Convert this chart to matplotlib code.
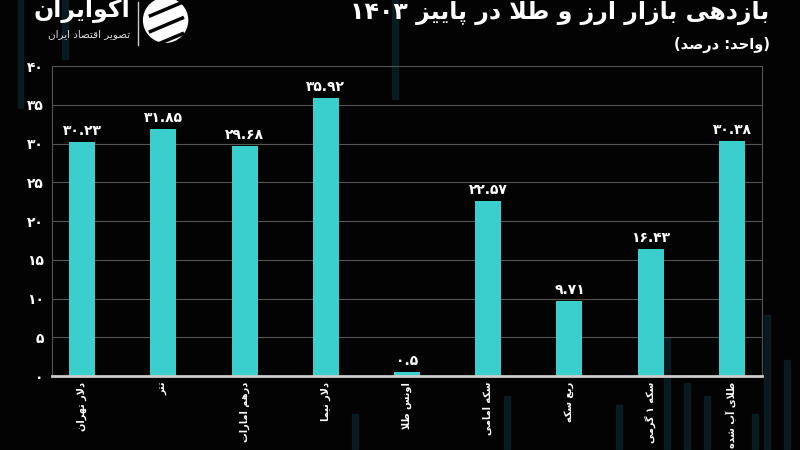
import matplotlib
matplotlib.use("Agg")
import matplotlib.pyplot as plt
from matplotlib.patches import Rectangle, Ellipse

# data
categories = ["دلار تهران", "تتر", "درهم امارات", "دلار نیما", "اونس طلا",
              "سکه امامی", "ربع سکه", "سکه ۱ گرمی", "طلای آب شده"]
values = [30.23, 31.85, 29.68, 35.92, 0.5, 22.57, 9.71, 16.43, 30.38]
yticks = [0, 5, 10, 15, 20, 25, 30, 35, 40]
title = "بازدهی بازار ارز و طلا در پاییز ۱۴۰۳"
subtitle = "(واحد: درصد)"
brand = "اکوایران"
brand_sub = "تصویر اقتصاد ایران"

# minimal persian shaping: (isolated, final, initial, medial)
FORMS = {
    'ا': ('\uFE8D', '\uFE8E', None, None),
    'آ': ('\uFE81', '\uFE82', None, None),
    'ب': ('\uFE8F', '\uFE90', '\uFE91', '\uFE92'),
    'پ': ('\uFB56', '\uFB57', '\uFB58', '\uFB59'),
    'ت': ('\uFE95', '\uFE96', '\uFE97', '\uFE98'),
    'ث': ('\uFE99', '\uFE9A', '\uFE9B', '\uFE9C'),
    'ج': ('\uFE9D', '\uFE9E', '\uFE9F', '\uFEA0'),
    'چ': ('\uFB7A', '\uFB7B', '\uFB7C', '\uFB7D'),
    'ح': ('\uFEA1', '\uFEA2', '\uFEA3', '\uFEA4'),
    'خ': ('\uFEA5', '\uFEA6', '\uFEA7', '\uFEA8'),
    'د': ('\uFEA9', '\uFEAA', None, None),
    'ذ': ('\uFEAB', '\uFEAC', None, None),
    'ر': ('\uFEAD', '\uFEAE', None, None),
    'ز': ('\uFEAF', '\uFEB0', None, None),
    'ژ': ('\uFB8A', '\uFB8B', None, None),
    'س': ('\uFEB1', '\uFEB2', '\uFEB3', '\uFEB4'),
    'ش': ('\uFEB5', '\uFEB6', '\uFEB7', '\uFEB8'),
    'ص': ('\uFEB9', '\uFEBA', '\uFEBB', '\uFEBC'),
    'ض': ('\uFEBD', '\uFEBE', '\uFEBF', '\uFEC0'),
    'ط': ('\uFEC1', '\uFEC2', '\uFEC3', '\uFEC4'),
    'ظ': ('\uFEC5', '\uFEC6', '\uFEC7', '\uFEC8'),
    'ع': ('\uFEC9', '\uFECA', '\uFECB', '\uFECC'),
    'غ': ('\uFECD', '\uFECE', '\uFECF', '\uFED0'),
    'ف': ('\uFED1', '\uFED2', '\uFED3', '\uFED4'),
    'ق': ('\uFED5', '\uFED6', '\uFED7', '\uFED8'),
    'ک': ('\uFB8E', '\uFB8F', '\uFB90', '\uFB91'),
    'گ': ('\uFB92', '\uFB93', '\uFB94', '\uFB95'),
    'ل': ('\uFEDD', '\uFEDE', '\uFEDF', '\uFEE0'),
    'م': ('\uFEE1', '\uFEE2', '\uFEE3', '\uFEE4'),
    'ن': ('\uFEE5', '\uFEE6', '\uFEE7', '\uFEE8'),
    'ه': ('\uFEE9', '\uFEEA', '\uFEEB', '\uFEEC'),
    'و': ('\uFEED', '\uFEEE', None, None),
    'ی': ('\uFBFC', '\uFBFD', '\uFBFE', '\uFBFF'),
}
LAM_ALEF = {'ا': ('\uFEFB', '\uFEFC'), 'آ': ('\uFEF5', '\uFEF6')}
DIGITS = "۰۱۲۳۴۵۶۷۸۹0123456789"
MIRROR = {'(': ')', ')': '('}


def shape(text):
    out = []
    n = len(text)
    i = 0
    while i < n:
        c = text[i]
        prev = text[i - 1] if i > 0 else None
        joins_prev = prev in FORMS and FORMS[prev][2] is not None
        if c == 'ل' and i + 1 < n and text[i + 1] in LAM_ALEF:
            iso, fin = LAM_ALEF[text[i + 1]]
            out.append(fin if joins_prev else iso)
            i += 2
            continue
        if c not in FORMS:
            out.append(c)
            i += 1
            continue
        nxt = text[i + 1] if i + 1 < n else None
        iso, fin, ini, med = FORMS[c]
        joins_next = nxt in FORMS and ini is not None
        if joins_prev and joins_next:
            out.append(med)
        elif joins_prev:
            out.append(fin)
        elif joins_next:
            out.append(ini)
        else:
            out.append(iso)
        i += 1
    return ''.join(out)


def rtl(text):
    s = shape(text)
    runs = []
    for ch in s:
        is_d = ch in DIGITS
        if runs and runs[-1][0] == is_d:
            runs[-1][1].append(ch)
        else:
            runs.append([is_d, [ch]])
    res = []
    for is_d, chars in reversed(runs):
        if is_d:
            res.append(''.join(chars))
        else:
            res.append(''.join(MIRROR.get(c, c) for c in reversed(chars)))
    return ''.join(res)


def fa_num(x):
    s = str(x)
    return s.translate(str.maketrans("0123456789", "۰۱۲۳۴۵۶۷۸۹"))


plt.rcParams['font.family'] = ['DejaVu Sans']
bg = '#030303'
bar_color = '#3acfcd'

fig = plt.figure(figsize=(8, 4.5), dpi=100, facecolor=bg)

# faint background streaks (behind everything)
for x0, y0, h in [(0.022, 0.76, 0.24), (0.078, 0.87, 0.13), (0.49, 0.78, 0.22),
                  (0.83, 0.0, 0.25), (0.855, 0.0, 0.15), (0.88, 0.0, 0.12),
                  (0.955, 0.0, 0.3), (0.98, 0.0, 0.2), (0.94, 0.0, 0.08),
                  (0.63, 0.0, 0.12), (0.77, 0.0, 0.1), (0.44, 0.0, 0.08)]:
    fig.patches.append(Rectangle((x0, y0), 0.007, h, transform=fig.transFigure,
                                 color='#0b2429', alpha=0.7, zorder=-5))

ax = fig.add_axes([0.065, 0.164, 0.8875, 0.689])
ax.set_facecolor('none')
ax.set_zorder(1)

x = range(len(categories))
ax.bar(x, values, width=0.32, color=bar_color, zorder=3)
for xi, v in zip(x, values):
    ax.text(xi, v + 0.5, fa_num(v), ha='center', va='bottom', color='white',
            fontsize=10, fontweight='bold', zorder=4)

ax.set_xlim(-0.37, len(categories) - 1 + 0.37)
ax.set_ylim(0, 40)
ax.set_yticks(yticks)
ax.set_yticklabels([fa_num(t) for t in yticks], color='white', fontsize=10,
                   fontweight='bold')
ax.set_xticks(list(x))
ax.set_xticklabels([rtl(c) for c in categories], rotation=90, color='white',
                   fontsize=7, fontweight='bold', va='top', ha='center')
ax.tick_params(axis='x', length=0, pad=4)
ax.tick_params(axis='y', length=0, pad=6)
ax.yaxis.grid(True, color='#555555', lw=0.8, zorder=0)
for s in ['left', 'right']:
    ax.spines[s].set_color('#555555')
    ax.spines[s].set_linewidth(0.8)
ax.spines['top'].set_visible(False)
ax.spines['bottom'].set_color('#cccccc')
ax.spines['bottom'].set_linewidth(2)
ax.spines['bottom'].set_zorder(5)

# title block
fig.text(0.962, 0.972, rtl(title), ha='right', va='center', color='white',
         fontsize=17, fontweight='bold')
fig.text(0.962, 0.9, rtl(subtitle), ha='right', va='center', color='white',
         fontsize=10.5, fontweight='bold')

# logo
fig.text(0.163, 0.975, rtl(brand), ha='right', va='center', color='white',
         fontsize=17, fontweight='bold')
fig.text(0.163, 0.925, rtl(brand_sub), ha='right', va='center', color='#dddddd',
         fontsize=7.5)
fig.add_artist(plt.Line2D([0.172, 0.172], [0.9, 0.995], color='#cccccc', lw=1,
                          transform=fig.transFigure))
fig.add_artist(Ellipse((0.207, 0.955), 44 / 800, 44 / 450,
                       transform=fig.transFigure, color='white', zorder=2))
for dy in (-0.035, 0.0, 0.035):
    fig.add_artist(plt.Line2D([0.188, 0.228], [0.93 + dy, 0.96 + dy],
                              color=bg, lw=2.5, transform=fig.transFigure,
                              zorder=3))

fig.savefig('out.png', dpi=100, facecolor=bg)
